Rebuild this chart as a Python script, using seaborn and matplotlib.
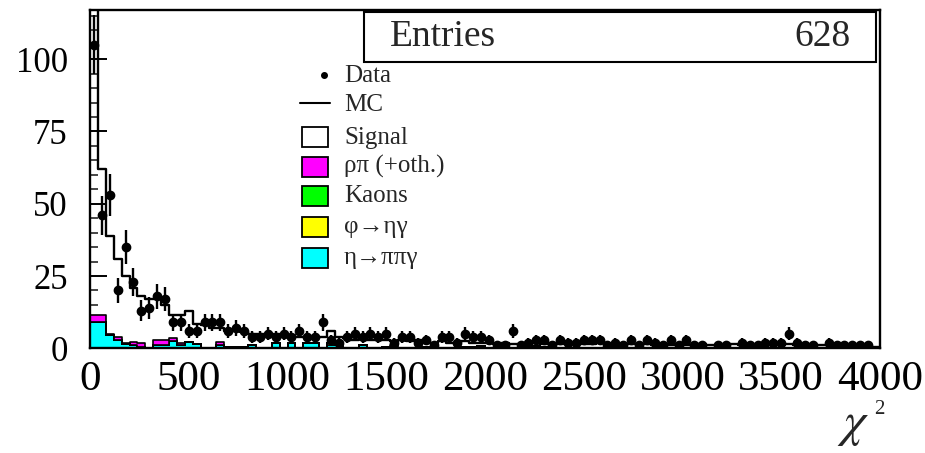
import numpy as np
import pandas as pd
import matplotlib
matplotlib.use("Agg")
import matplotlib.pyplot as plt
import seaborn as sns
from matplotlib.patches import Rectangle
from matplotlib.lines import Line2D
from matplotlib.ticker import MultipleLocator

# ---- histogram contents: 100 bins of width 40 between 0 and 4000 ----
chi2_range = (0, 4000)
bin_width = 40
entries = 628

data_counts = [
    105, 46, 53, 20, 35, 23, 13, 14, 18, 17,
    9, 9, 6, 6, 9, 9, 9, 6, 7, 6,
    4, 4, 5, 4, 5, 4, 6, 4, 4, 9,
    3, 2, 4, 5, 4, 5, 4, 5, 2, 4,
    4, 2, 3, 1, 4, 4, 2, 5, 4, 4,
    3, 1, 1, 6, 1, 2, 3, 3, 1, 3,
    2, 2, 3, 3, 3, 1, 2, 1, 3, 1,
    3, 2, 1, 3, 1, 3, 1, 1, 0, 1,
    1, 0, 2, 1, 1, 2, 2, 2, 5, 2,
    1, 1, 0, 2, 1, 1, 1, 1, 1, 0,
]

mc_total = [
    125, 62, 39, 31, 25, 21, 18, 17, 17, 15,
    11.5, 11.5, 13, 8.5, 8, 7, 7, 6, 6, 5.5,
    5, 5, 4.5, 5, 4, 4.5, 4, 4, 3.5, 4,
    6, 4, 3.5, 3, 3.5, 3, 3, 3, 2.5, 3,
    2.5, 3, 2.5, 2, 2.5, 2, 2, 2.5, 2, 2,
    2, 1.5, 2, 1.5, 1.5, 2, 2, 1.5, 2, 1.5,
    1.5, 2, 1.5, 1.5, 2, 1.5, 1.5, 1, 1.5, 1.5,
    1.5, 1, 1.5, 1, 1.5, 1, 1, 1.5, 1, 1,
    1, 1.5, 1, 1, 1, 1.5, 1, 1, 1.5, 1,
    1, 1, 1, 1, 1, 0.5, 1, 1, 0.5, 0.5,
]

rho_pi = [
    2.5, 2.5, 0.5, 1, 0.5, 1.3, 1.2, 0, 2, 2,
    1.2, 0.7, 0, 0, 0, 0, 1.3, 0, 0, 0,
    0, 0, 0, 0, 0, 0, 0, 0, 0, 0,
    0, 0, 0, 0, 0, 0, 0, 0, 1, 0,
    0, 0, 0, 0, 0, 0, 0, 0, 0, 0,
    0, 0, 0, 0, 0, 0, 0, 0, 0, 0,
    0, 0, 0, 0, 0, 0, 0, 0, 0, 0,
    0, 0, 0, 0, 0, 0, 0, 0, 0, 0,
    0, 0, 0, 0, 0, 0, 0, 0, 0, 0,
    0, 0, 0, 0, 0, 0, 0, 0, 0, 0,
]

kaons = [
    0, 0, 0, 0, 0, 0, 0, 0, 0, 0,
    0, 0, 0, 0, 0, 0, 0, 0, 0, 0,
    0, 0, 0, 0, 0, 0, 0, 0, 0, 0,
    0, 0, 0, 0, 0, 0, 0, 0, 0, 0,
    0, 0, 0.5, 0, 0, 0, 0, 0, 0, 0,
    0, 0, 0, 0, 0, 0, 0, 0, 0, 0,
    0, 0, 0, 0, 0, 0, 0, 0, 0, 0,
    0, 0, 0, 0, 0, 0, 0, 0, 0, 0,
    0, 0, 0, 0, 0, 0, 0, 0, 0, 0,
    0, 0, 0, 0, 0, 0, 0, 0, 0, 0,
]

phi_eta_gamma = [
    0, 0, 0, 0, 0, 0, 0, 0, 0, 0,
    0, 0, 0, 0, 0, 0, 0, 0.5, 0, 0,
    0, 0, 0, 0, 0, 0, 0, 0, 0, 0,
    0.8, 0, 0, 0, 0, 0, 0, 0, 0, 0,
    0, 0, 0, 0, 0, 0, 0, 0, 0, 0.8,
    0, 0, 0, 0, 0, 0, 0.8, 0, 0, 0,
    0, 0, 0, 0, 0, 0, 0, 0, 0, 0,
    0, 0, 0, 0, 0, 0, 0, 0, 0, 0,
    0, 0, 0, 0, 0, 0, 0, 0, 0, 0,
    0, 0, 0, 0, 0, 0, 0, 0, 0, 0,
]

eta_pipigamma = [
    9, 9, 4.5, 3, 1.5, 1, 0.5, 0, 1, 1,
    2.5, 1, 2.3, 1.5, 0, 0, 1, 0, 0.5, 0.5,
    1, 0, 0, 2, 0, 2, 0, 2, 2, 0,
    1, 1, 0, 0, 1, 0, 0, 0.5, 0, 0,
    0, 0, 0, 0, 0, 0, 0, 0.5, 0.5, 0,
    0, 0, 0, 0, 0, 0, 0, 0.5, 0.5, 0,
    0, 0, 0, 0, 0, 0, 0, 0, 0, 0,
    0, 0, 0, 0, 0, 0, 0, 0, 0, 0,
    0, 0, 0, 0, 0, 0, 0, 0, 0, 0,
    0, 0, 0, 0, 0, 0, 0, 0, 0, 0,
]

legend_labels = ["Data", "MC", "Signal", "ρπ (+oth.)", "Kaons", "φ→ηγ", "η→ππγ"]
bkg_names = ["ρπ (+oth.)", "Kaons", "φ→ηγ", "η→ππγ"]
bkg_colors = ["#ff00ff", "#00ff00", "#ffff00", "#00ffff"]
y_ticks = [0, 25, 50, 75, 100]
x_ticks = [0, 500, 1000, 1500, 2000, 2500, 3000, 3500, 4000]

# ---- style ----
sns.set_theme(style="white")
plt.rcParams["font.family"] = ["Liberation Serif", "DejaVu Serif"]
plt.rcParams["mathtext.fontset"] = "stix"

W, H = 925, 453
fig = plt.figure(figsize=(W / 100, H / 100), dpi=100)
fig.patch.set_facecolor("white")


def fx(px):
    return px / W


def fy(py):
    return 1 - py / H


ax = fig.add_axes([fx(90), fy(348.3), fx(880) - fx(90), fy(10) - fy(348.3)])
ax.set_facecolor("white")

n_bins = len(data_counts)
centers = chi2_range[0] + bin_width * (np.arange(n_bins) + 0.5)

# stacked backgrounds (last hue level sits at the bottom of the stack)
bkg = pd.DataFrame({
    "chi2": np.tile(centers, len(bkg_names)),
    "n": np.concatenate([rho_pi, kaons, phi_eta_gamma, eta_pipigamma]),
    "comp": np.repeat(bkg_names, n_bins),
})
sns.histplot(data=bkg, x="chi2", weights="n", hue="comp", hue_order=bkg_names,
             palette=dict(zip(bkg_names, bkg_colors)), multiple="stack",
             binwidth=bin_width, binrange=chi2_range, element="step", alpha=1,
             edgecolor="black", linewidth=1.2, legend=False, ax=ax)

# total MC outline
mc = pd.DataFrame({"chi2": centers, "n": mc_total})
sns.histplot(data=mc, x="chi2", weights="n", binwidth=bin_width,
             binrange=chi2_range, element="step", fill=False, color="black",
             linewidth=1.7, ax=ax)

# data points with Poisson errors
d = np.asarray(data_counts, dtype=float)
m = d > 0
ax.errorbar(centers[m], d[m], yerr=np.sqrt(d[m]), xerr=bin_width / 2, fmt="o",
            ms=6, color="black", elinewidth=1.7, capsize=0, zorder=5)

ax.set_xlim(*chi2_range)
ax.set_ylim(0, 117)
ax.set_xlabel("")
ax.set_ylabel("")
ax.set_xticks(x_ticks)
ax.set_yticks(y_ticks)
ax.yaxis.set_minor_locator(MultipleLocator(5))
ax.tick_params(axis="y", which="major", direction="in", left=True, length=12,
               width=1.4, pad=16, labelsize=25, colors="black")
ax.tick_params(axis="y", which="minor", direction="in", left=True, length=6,
               width=1.2)
ax.tick_params(axis="x", which="both", length=0, pad=9, labelsize=31,
               colors="black")
for s in ax.spines.values():
    s.set_color("black")
    s.set_linewidth(1.7)

# statistics box
fig.add_artist(Rectangle((fx(364), fy(62)), fx(876) - fx(364), fy(12) - fy(62),
                         transform=fig.transFigure, facecolor="white",
                         edgecolor="black", linewidth=1.5, zorder=6))
fig.text(fx(390), fy(37), "Entries", ha="left", va="center", fontsize=27,
         zorder=7)
fig.text(fx(851), fy(37), str(entries), ha="right", va="center", fontsize=27,
         zorder=7)

# legend drawn in figure pixels
text_x = 344
fs_leg = 18
fig.add_artist(Line2D([fx(324)], [fy(75)], marker="o", ms=4, color="black",
                      transform=fig.transFigure))
fig.text(fx(text_x), fy(76), legend_labels[0], va="center", fontsize=fs_leg)
fig.add_artist(Line2D([fx(300), fx(330)], [fy(103), fy(103)], color="black",
                      linewidth=1.5, transform=fig.transFigure))
fig.text(fx(text_x), fy(105), legend_labels[1], va="center", fontsize=fs_leg)
box_tops = [127, 157, 186, 217, 248]
box_cols = ["white"] + bkg_colors
text_y = [138, 166, 196, 227, 258]
for top, col, ty, lab in zip(box_tops, box_cols, text_y, legend_labels[2:]):
    fig.add_artist(Rectangle((fx(302), fy(top + 20)), 26 / W, 20 / H,
                             transform=fig.transFigure, facecolor=col,
                             edgecolor="black", linewidth=1.3))
    fig.text(fx(text_x), fy(ty), lab, va="center", fontsize=fs_leg)

# axis title
fig.text(fx(853), fy(425), r"$\chi$", ha="center", va="center", fontsize=36)
fig.text(fx(879), fy(410), "2", ha="center", va="center", fontsize=15)

fig.savefig("out.png", dpi=100, facecolor="white")
